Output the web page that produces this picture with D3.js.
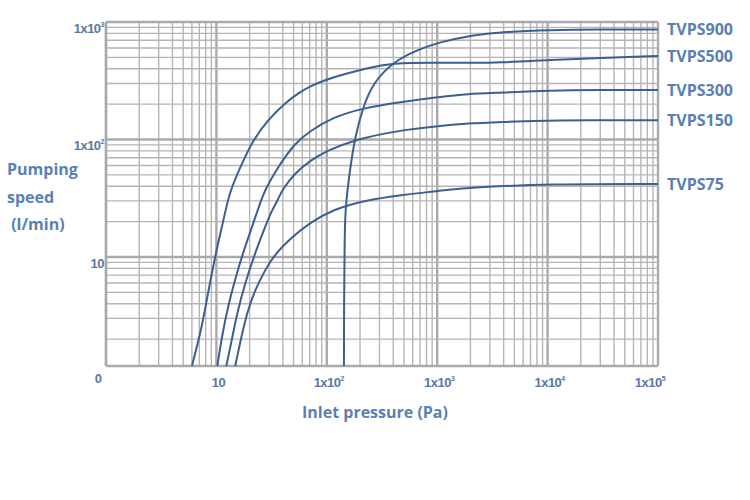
<!DOCTYPE html>
<html>
<head>
<meta charset="utf-8">
<script src="https://cdnjs.cloudflare.com/ajax/libs/d3/7.8.5/d3.min.js"></script>
<style>
	body { margin: 0; background: #fff; }
	.grid line { stroke: #b5b5b5; stroke-width: 1.4; }
	.grid line.major { stroke: #aaaaaa; stroke-width: 2.4; }
	.tick-label {
		fill: #5878a6;
		font-family: "Liberation Sans", Arial, sans-serif;
		font-weight: bold;
		font-size: 13px;
		letter-spacing: -0.5px;
	}
	.title {
		fill: #5a80b3;
		font-family: "Open Sans", sans-serif;
		font-weight: 700;
		font-size: 16px;
	}
	.curve { fill: none; stroke: #3b5f8e; stroke-width: 2; }
</style>
</head>
<body>
<svg width="750" height="500"></svg>
<script>
// inlet pressure (Pa) / pumping speed (l/min)
const seriesNames = ["TVPS900", "TVPS500", "TVPS300", "TVPS150", "TVPS75"];

const tvps900 = [[143, 1.18], [143.3, 4.3], [145, 11.5], [146, 25], [162, 55], [180, 105], [213, 189],
	[262, 303], [398, 457], [656, 578], [1060, 676], [2109, 775], [3706, 822], [10500, 855],
	[29800, 865], [100000, 865]];
const tvps500 = [[6.0, 1.18], [7.41, 2.54], [8.39, 4.94], [9.71, 10], [11.2, 18], [12.7, 30.5],
	[13.8, 39.4], [17.1, 63], [21.5, 99], [29.3, 147], [41.8, 205], [57.2, 253], [70.4, 285],
	[114, 340], [231, 406], [398, 448], [916, 452], [1862, 448], [3706, 450], [10500, 475],
	[29800, 494], [100000, 514]];
const tvps300 = [[10.2, 1.18], [11.2, 2.09], [12.7, 3.75], [14.7, 6.37], [17.4, 10.8], [21.0, 18],
	[25.4, 30.5], [27.6, 37.2], [36.1, 58.3], [51.5, 93.4], [70.4, 118], [114, 155], [213, 185],
	[460, 208], [1060, 230], [1862, 244], [3706, 250], [10500, 262], [29800, 264], [100000, 264]];
const tvps150 = [[12.3, 1.18], [13.8, 1.97], [15.4, 3.34], [18.2, 6.0], [22.4, 10.8], [27.6, 18],
	[31.9, 25.1], [36.1, 30.5], [39.3, 37.2], [51.5, 51.9], [70.4, 66], [100, 80], [173, 99],
	[460, 120], [1060, 130], [1862, 137], [3706, 141], [10500, 146], [100000, 146]];
const tvps75 = [[14.8, 1.18], [17.1, 2.25], [19.3, 3.54], [22.4, 5.24], [27.6, 7.75], [33.9, 10.6],
	[48.4, 14.8], [70.4, 19.5], [114, 25.5], [231, 30.5], [460, 33.7], [1060, 36.5], [1862, 39],
	[10500, 41.8], [100000, 41.8]];

const seriesData = [tvps900, tvps500, tvps300, tvps150, tvps75];

const xTickValues = [10, 100, 1000, 10000, 100000];
const yTickValues = [10, 100, 1000];
const zeroLabel = "0";
const yTitleLines = ["Pumping", "speed", " (l/min)"];
const xTitle = "Inlet pressure (Pa)";

const svg = d3.select("svg");

const x = d3.scaleLog().domain([1, 100000]).range([106, 658]);
const y = d3.scaleLog().domain([1.18, 1000]).range([366, 22]);

// grid
const xGrid = [];
for (let k = 0; k < 5; k++) for (let m = 1; m < 10; m++) xGrid.push(m * Math.pow(10, k));
xGrid.push(100000);
const yGrid = [];
for (let k = 0; k < 3; k++) for (let m = 1; m < 10; m++) {
	const v = m * Math.pow(10, k);
	if (v >= 1.18) yGrid.push(v);
}
yGrid.push(1000);
const isMajor = v => Math.abs(Math.log10(v) - Math.round(Math.log10(v))) < 1e-9;

const grid = svg.append("g").attr("class", "grid");
grid.selectAll("line.v").data(xGrid).enter().append("line")
	.attr("class", d => isMajor(d) ? "major" : null)
	.attr("x1", d => x(d)).attr("x2", d => x(d))
	.attr("y1", y.range()[1]).attr("y2", y.range()[0]);
grid.selectAll("line.h").data(yGrid).enter().append("line")
	.attr("class", d => isMajor(d) ? "major" : null)
	.attr("x1", x.range()[0]).attr("x2", x.range()[1])
	.attr("y1", d => y(d)).attr("y2", d => y(d));
grid.append("line").attr("class", "major")
	.attr("x1", x.range()[0]).attr("x2", x.range()[1])
	.attr("y1", y.range()[0]).attr("y2", y.range()[0]);
grid.append("line").attr("class", "major")
	.attr("x1", x.range()[0]).attr("x2", x.range()[0])
	.attr("y1", y.range()[0]).attr("y2", y.range()[1]);

// curves
const line = d3.line()
	.x(d => x(d[0]))
	.y(d => y(d[1]))
	.curve(d3.curveBasis);

svg.append("g").selectAll("path").data(seriesData).enter().append("path")
	.attr("class", "curve")
	.attr("d", d => line(d));

// series labels
svg.append("g").selectAll("text").data(seriesData).enter().append("text")
	.attr("class", "title")
	.attr("x", 667)
	.attr("y", d => y(d[d.length - 1][1]) + 6)
	.text((d, i) => seriesNames[i]);

// tick labels
function tickLabel(sel, v) {
	const e = Math.round(Math.log10(v));
	if (e === 1) { sel.text("10"); return; }
	sel.append("tspan").text("1x10");
	sel.append("tspan").attr("font-size", "7px").attr("dy", -6).text(e);
}

svg.append("g").selectAll("text").data(yTickValues).enter().append("text")
	.attr("class", "tick-label")
	.attr("text-anchor", "end")
	.attr("x", 104)
	.attr("y", d => y(d) + 11)
	.each(function(d) { tickLabel(d3.select(this), d); });

svg.append("g").selectAll("text").data(xTickValues).enter().append("text")
	.attr("class", "tick-label")
	.attr("text-anchor", "middle")
	.attr("x", d => Math.min(x(d) + 2, 650))
	.attr("y", 387)
	.each(function(d) { tickLabel(d3.select(this), d); });

svg.append("text").attr("class", "tick-label")
	.attr("text-anchor", "middle")
	.attr("x", x(1) - 8).attr("y", 383)
	.text(zeroLabel);

// axis titles
svg.append("g").selectAll("text").data(yTitleLines).enter().append("text")
	.attr("class", "title")
	.attr("x", 7)
	.attr("y", (d, i) => 175 + i * 27.5)
	.attr("xml:space", "preserve")
	.style("white-space", "pre")
	.text(d => d);

svg.append("text").attr("class", "title")
	.attr("x", 302).attr("y", 418)
	.text(xTitle);
</script>
</body>
</html>
